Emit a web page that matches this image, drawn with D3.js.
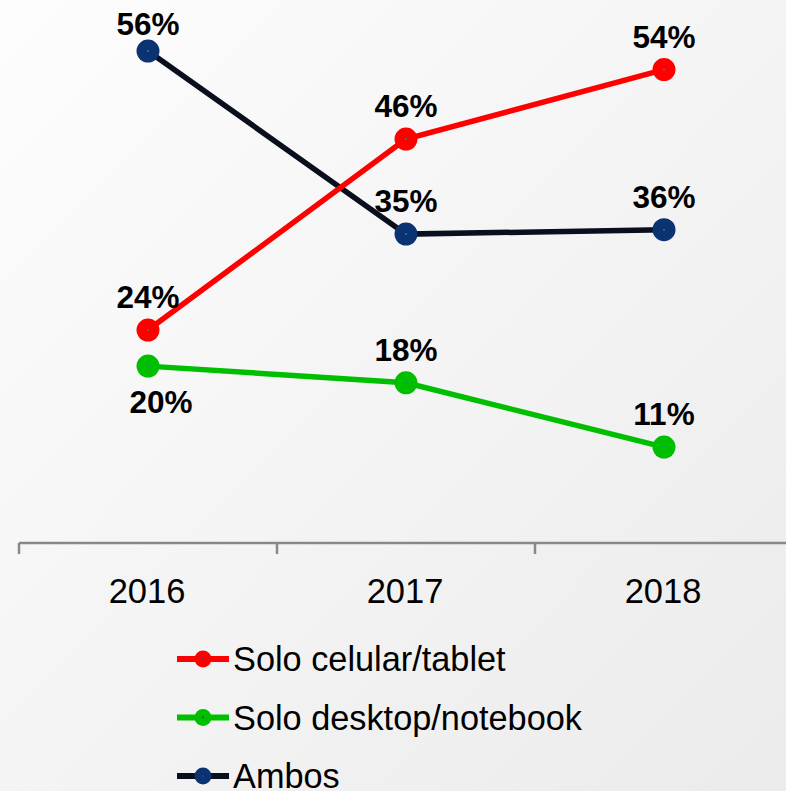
<!DOCTYPE html>
<html><head><meta charset="utf-8">
<script src="https://cdn.jsdelivr.net/npm/d3@7"></script>
<style>html,body{margin:0;padding:0;overflow:hidden;}svg{display:block;}</style>
</head><body>
<script>
const years = ["2016", "2017", "2018"];
const seriesNames = ["Solo celular/tablet", "Solo desktop/notebook", "Ambos"];
const celular = [24.2, 45.9, 53.8];
const desktop = [20.1, 18.2, 10.9];
const ambos = [55.9, 35.1, 35.6];
const labelsCel = ["24%", "46%", "54%"];
const labelsDesk = ["20%", "18%", "11%"];
const labelsAmbos = ["56%", "35%", "36%"];

const W = 786, H = 791;
const svg = d3.select("body").append("svg").attr("width", W).attr("height", H);
const defs = svg.append("defs");
const grad = defs.append("linearGradient").attr("id", "bg").attr("x1", "0").attr("y1", "0").attr("x2", "1").attr("y2", "1");
grad.append("stop").attr("offset", "0").attr("stop-color", "#fdfdfd");
grad.append("stop").attr("offset", "1").attr("stop-color", "#ebebeb");
svg.append("rect").attr("width", W).attr("height", H).attr("fill", "url(#bg)");

const x = d3.scaleBand().domain(years).range([19, 19 + 258 * 3]).padding(0);
const y = d3.scaleLinear().domain([0, 60]).range([543, 15]);
const cx = d => x(d) + x.bandwidth() / 2;

// axis
const ax = svg.append("g").attr("transform", "translate(0,543)");
ax.append("line").attr("x1", 19).attr("x2", W).attr("y1", 0).attr("y2", 0).attr("stroke", "#888").attr("stroke-width", 2.5);
const tickPos = [...years.map(d => x(d)), x(years[2]) + x.bandwidth()];
ax.selectAll("line.tk").data(tickPos).join("line").attr("class", "tk")
  .attr("x1", d => d).attr("x2", d => d).attr("y1", 0).attr("y2", 11)
  .attr("stroke", "#888").attr("stroke-width", 2.5);
ax.selectAll("text.yr").data(years).join("text").attr("class", "yr")
  .attr("x", d => cx(d) - 1).attr("y", 60).attr("text-anchor", "middle")
  .attr("font-family", "Liberation Sans, Arial, sans-serif").attr("font-size", 34.5).attr("fill", "#000")
  .text(d => d);

const series = [
  {name: seriesNames[0], vals: celular, labels: labelsCel, line: "#ff0000", dot: "#ff0000",
   lab: [[0, -22], [0, -22], [0, -22]]},
  {name: seriesNames[1], vals: desktop, labels: labelsDesk, line: "#00bf00", dot: "#00bf00",
   lab: [[13, 47], [0, -22], [0, -22]]},
  {name: seriesNames[2], vals: ambos, labels: labelsAmbos, line: "#0a0f1e", dot: "#0b3271",
   lab: [[0, -16], [0, -22], [0, -22]]}
];

const line = d3.line().x(d => cx(d.year)).y(d => y(d.v));
[series[2], series[1], series[0]].forEach(s => {
  const pts = years.map((yr, i) => ({year: yr, v: s.vals[i], label: s.labels[i], off: s.lab[i]}));
  const g = svg.append("g");
  g.append("path").datum(pts).attr("d", line).attr("fill", "none").attr("stroke", s.line).attr("stroke-width", 5.5);
  g.selectAll("circle.m").data(pts).join("circle").attr("class", "m")
    .attr("cx", d => cx(d.year)).attr("cy", d => y(d.v)).attr("r", 11.5).attr("fill", s.dot);
  g.selectAll("circle.c").data(pts).join("circle").attr("class", "c")
    .attr("cx", d => cx(d.year)).attr("cy", d => y(d.v)).attr("r", 1).attr("fill", "#1a8a8a");
  s.pts = pts;
});
[series[2], series[1], series[0]].forEach(s => {
  svg.append("g").selectAll("text").data(s.pts).join("text")
    .attr("x", d => cx(d.year) + d.off[0]).attr("y", d => y(d.v) + d.off[1])
    .attr("text-anchor", "middle").attr("font-family", "Liberation Sans, Arial, sans-serif")
    .attr("font-weight", "bold").attr("font-size", 31.5).attr("fill", "#000")
    .text(d => d.label);
});

// legend
const leg = svg.append("g");
series.forEach((s, i) => {
  const ly = 659 + i * 58.5;
  leg.append("line").attr("x1", 177).attr("x2", 229).attr("y1", ly).attr("y2", ly).attr("stroke", s.line).attr("stroke-width", 6);
  leg.append("circle").attr("cx", 203).attr("cy", ly).attr("r", 8.5).attr("fill", s.dot);
  leg.append("circle").attr("cx", 203).attr("cy", ly).attr("r", 1).attr("fill", "#1a4a8a");
  leg.append("text").attr("x", 233).attr("y", ly + 12).attr("font-family", "Liberation Sans, Arial, sans-serif")
    .attr("font-size", 34.3).attr("fill", "#000").text(s.name);
});
</script>
</body></html>
